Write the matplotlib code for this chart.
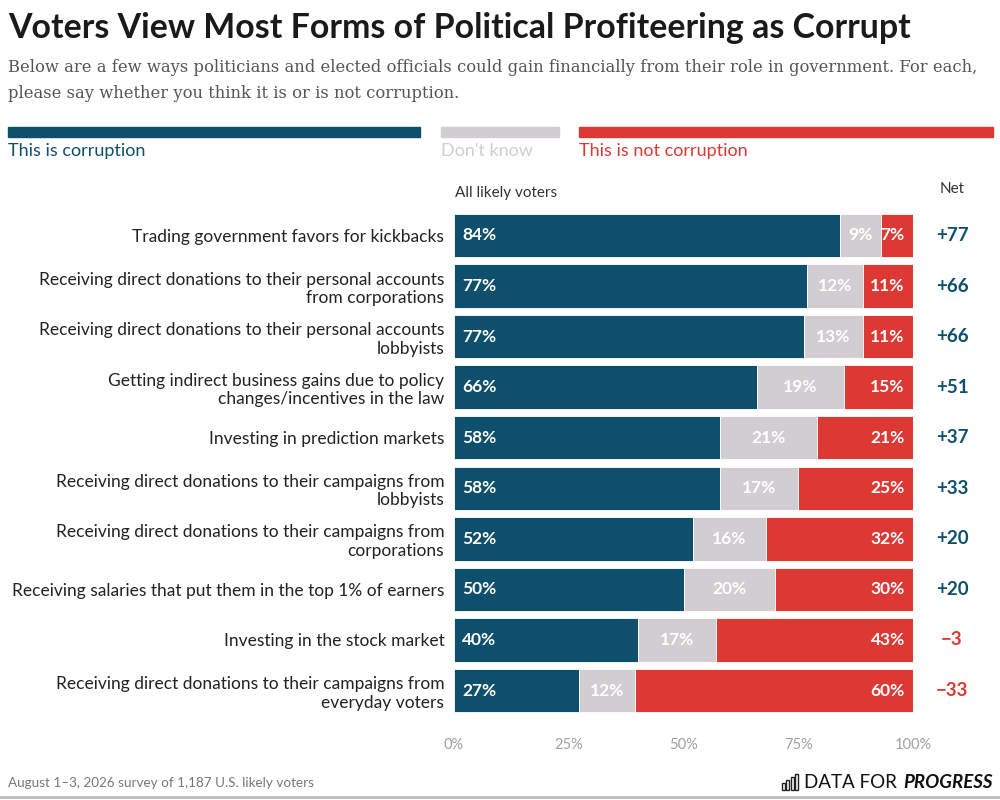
import numpy as np
import matplotlib
matplotlib.use("Agg")
import matplotlib.pyplot as plt
from matplotlib.patches import Rectangle

# data
items = [
    "Trading government favors for kickbacks",
    "Receiving direct donations to their personal accounts\nfrom corporations",
    "Receiving direct donations to their personal accounts\nlobbyists",
    "Getting indirect business gains due to policy\nchanges/incentives in the law",
    "Investing in prediction markets",
    "Receiving direct donations to their campaigns from\nlobbyists",
    "Receiving direct donations to their campaigns from\ncorporations",
    "Receiving salaries that put them in the top 1% of earners",
    "Investing in the stock market",
    "Receiving direct donations to their campaigns from\neveryday voters",
]
corruption = [84, 77, 77, 66, 58, 58, 52, 50, 40, 27]
dont_know = [9, 12, 13, 19, 21, 17, 16, 20, 17, 12]
not_corruption = [7, 11, 11, 15, 21, 25, 32, 30, 43, 60]
net = [77, 66, 66, 51, 37, 33, 20, 20, -3, -33]
ticks = [0, 25, 50, 75, 100]

BLUE = "#0e4f6b"
GRAY = "#d1cdd0"
RED = "#dc3934"
FONT = "Lato"

W, H = 1000, 800
fig = plt.figure(figsize=(10, 8), dpi=100)
fig.patch.set_facecolor("white")


def px(x, y):
    return x / W, 1 - y / H


def ftext(x, y, s, **kw):
    fx, fy = px(x, y)
    kw.setdefault("family", FONT)
    return fig.text(fx, fy, s, **kw)


# title and subtitle
ftext(8, 28, "Voters View Most Forms of Political Profiteering as Corrupt",
      fontsize=24.4, fontweight="bold", color="#1a1a1a", va="center")
sub1 = ftext(8, 68, "Below are a few ways politicians and elected officials could gain financially from their role in government. For each,",
             fontsize=12, family="DejaVu Serif", color="#555555", va="center")
sub2 = ftext(8, 93, "please say whether you think it is or is not corruption.",
             fontsize=12, family="DejaVu Serif", color="#555555", va="center")
fig.canvas.draw()
wid = sub1.get_window_extent().width
fs = 12 * 967 / wid
sub1.set_fontsize(fs)
sub2.set_fontsize(fs)

# legend strips
for (x0, x1, col, lab) in [(8, 420, BLUE, "This is corruption"),
                           (441, 559, GRAY, "Don't know"),
                           (579, 993, RED, "This is not corruption")]:
    fx0, fy0 = px(x0, 137)
    fig.patches.append(Rectangle((fx0, fy0), (x1 - x0) / W, 10 / H,
                                 transform=fig.transFigure, color=col))
    ftext(x0, 151, lab, fontsize=13, color=col, va="center")

ftext(455, 193, "All likely voters", fontsize=11, color="#333333", va="center")
ftext(952, 189, "Net", fontsize=11, color="#333333", va="center", ha="center")

# main axes
ax = fig.add_axes([0.454, 1 - 715.8 / H, 0.459, (715.8 - 210.2) / H])
y = np.arange(len(items))
c = np.array(corruption, float)
d = np.array(dont_know, float)
n = np.array(not_corruption, float)
tot = c + d + n
c, d, n = c / tot * 100, d / tot * 100, n / tot * 100

bh = 0.86
ax.barh(y, c, height=bh, color=BLUE, edgecolor="white", linewidth=0.6)
ax.barh(y, d, left=c, height=bh, color=GRAY, edgecolor="white", linewidth=0.6)
ax.barh(y, n, left=c + d, height=bh, color=RED, edgecolor="white", linewidth=0.6)

for i in range(len(items)):
    ax.text(1.8, y[i], f"{corruption[i]}%", color="white", fontweight="bold",
            family=FONT, fontsize=12.5, va="center", ha="left")
    ax.text(c[i] + d[i] / 2, y[i], f"{dont_know[i]}%", color="white", fontweight="bold",
            family=FONT, fontsize=12.5, va="center", ha="center")
    ax.text(98.2, y[i], f"{not_corruption[i]}%", color="white", fontweight="bold",
            family=FONT, fontsize=12.5, va="center", ha="right")
    s = f"+{net[i]}" if net[i] > 0 else f"\u2212{abs(net[i])}"
    ax.text(108.5, y[i], s, color=BLUE if net[i] > 0 else RED, fontweight="bold",
            family=FONT, fontsize=13.5, va="center", ha="center")

ax.set_xlim(0, 100)
ax.set_ylim(len(items) - 0.5, -0.5)
ax.set_yticks(y)
ax.set_yticklabels(items, family=FONT, fontsize=12.5, color="#222222",
                   linespacing=1.2)
ax.set_xticks(ticks)
ax.set_xticklabels([f"{t}%" for t in ticks], family=FONT, fontsize=10.5,
                   color="#a0a0a0")
ax.tick_params(axis="y", length=0, pad=7)
ax.tick_params(axis="x", length=0, pad=16)
for sp in ax.spines.values():
    sp.set_visible(False)

# footer
ftext(8, 783, "August 1\u20133, 2026 survey of 1,187 U.S. likely voters",
      fontsize=9.7, color="#777777", va="center")
t2 = ftext(993, 782, "PROGRESS", fontsize=13.5, fontweight="bold", style="italic",
           color="#111111", va="center", ha="right")
fig.canvas.draw()
bb = t2.get_window_extent()
t1 = ftext(bb.x0 - 2, 782, "DATA FOR ", fontsize=13.5, color="#111111",
           va="center", ha="right")
fig.canvas.draw()
bb1 = t1.get_window_extent()
# small bar icon
ix = bb1.x0 - 22
for k, hgt in enumerate([7, 10, 13, 16]):
    fx0, fy0 = px(ix + k * 4.5, 790)
    fig.patches.append(Rectangle((fx0, fy0), 3 / W, hgt / H, transform=fig.transFigure,
                                 fill=False, edgecolor="#222222", linewidth=1.0))
fig.lines.append(plt.Line2D([0, 1], [1 - 797 / H] * 2, transform=fig.transFigure,
                            color="#bbbbbb", linewidth=2))

fig.savefig("out.png", dpi=100)
